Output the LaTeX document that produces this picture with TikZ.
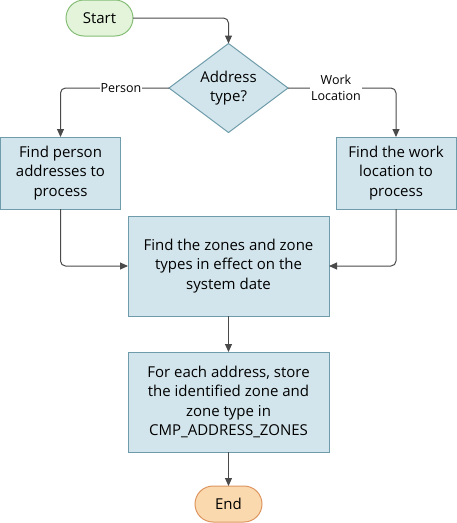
\documentclass[tikz,border=0pt]{standalone}
\usepackage{fontspec}
\setmainfont{Open Sans}
\usetikzlibrary{shapes.geometric,arrows.meta}
\definecolor{boxfill}{HTML}{D3E5EC}
\definecolor{boxline}{HTML}{6F9CAA}
\definecolor{startfill}{HTML}{E3F4DB}
\definecolor{startline}{HTML}{86BE76}
\definecolor{endfill}{HTML}{FAD9AF}
\definecolor{endline}{HTML}{DE9560}
\definecolor{arr}{HTML}{4A4A4A}
\begin{document}
\begin{tikzpicture}[x=1pt,y=-1pt,
  every node/.style={inner sep=0pt, outer sep=0pt},
  procbox/.style={draw=boxline, fill=boxfill, line width=1pt, align=center, font=\fontsize{15}{19.5}\selectfont},
  term/.style={draw, rounded corners=18pt, line width=1pt, minimum width=67pt, minimum height=36pt, font=\fontsize{15}{18}\selectfont},
  decision/.style={draw=boxline, fill=boxfill, line width=1pt, diamond, aspect=1.34, minimum width=119pt, minimum height=89pt, align=center, font=\fontsize{15}{19.5}\selectfont},
  conn/.style={draw=arr, line width=1pt, rounded corners=5pt, -{Triangle[length=8pt,width=7pt]}},
  lbl/.style={fill=white, font=\fontsize{12.5}{15.5}\selectfont, align=center, inner sep=1pt}]
\useasboundingbox (0,0) rectangle (457,523);
\node[term, draw=startline, fill=startfill] (start) at (99.5,18) {Start};
\node[decision] (dec) at (228.5,88) {Address\\type?};
\node[procbox, minimum width=120pt, minimum height=72pt] (left) at (60.5,173) {Find person\\addresses to\\process};
\node[procbox, minimum width=120pt, minimum height=72pt] (right) at (396,173) {Find the work\\location to\\process};
\node[procbox, minimum width=201pt, minimum height=100pt] (mid) at (228.5,266) {Find the zones and zone\\types in effect on the\\system date};
\node[procbox, minimum width=201pt, minimum height=100pt] (store) at (228.5,402) {For each address, store\\the identified zone and\\zone type in\\CMP\_ADDRESS\_ZONES};
\node[term, draw=endline, fill=endfill] (end) at (228.5,504) {End};
\coordinate (c1) at (228.5,18);
\coordinate (c2) at (60.5,88);
\coordinate (c3) at (396,88);
\coordinate (c4) at (60.5,266);
\coordinate (c5) at (396,266);
\draw[conn] (start.east) -- (c1) -- (dec.north);
\draw[conn] (dec.west) -- (c2) -- (left.north);
\draw[conn] (dec.east) -- (c3) -- (right.north);
\draw[conn] (left.south) -- (c4) -- (mid.west);
\draw[conn] (right.south) -- (c5) -- (mid.east);
\draw[conn] (mid.south) -- (store.north);
\draw[conn] (store.south) -- (end.north);
\node[lbl] (lp) at (121,88) {Person};
\node[lbl] (lw) at (336,88) {Work\\Location};
\end{tikzpicture}
\end{document}
